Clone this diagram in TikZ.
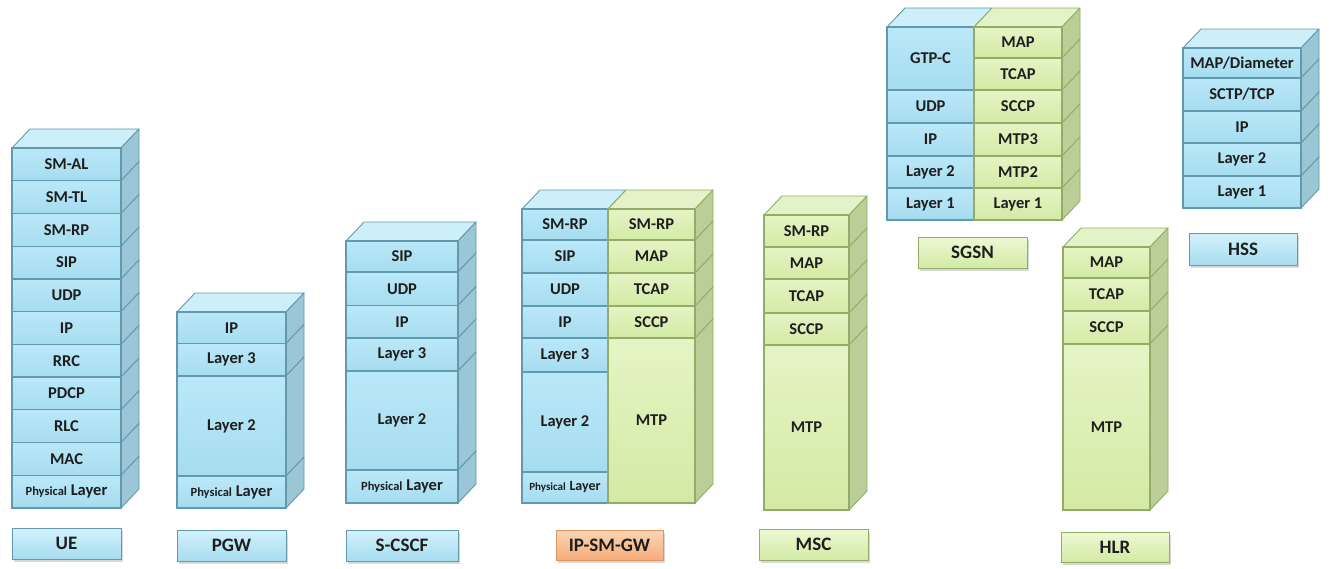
\documentclass[tikz,border=0pt]{standalone}
\usepackage{fontspec}
\setmainfont{Carlito}
\usetikzlibrary{shadows}
\definecolor{bft}{HTML}{BAE8F8}
\definecolor{bfb}{HTML}{A6DCEF}
\definecolor{blt}{HTML}{D3F2FC}
\definecolor{bside}{HTML}{9AC6D5}
\definecolor{btop}{HTML}{CDEFFA}
\definecolor{bedge}{HTML}{6399AC}
\definecolor{gft}{HTML}{E5F4C5}
\definecolor{gfb}{HTML}{D3EAA5}
\definecolor{glt}{HTML}{EDF8D4}
\definecolor{gside}{HTML}{BBCE97}
\definecolor{gtop}{HTML}{E4F3C7}
\definecolor{gedge}{HTML}{93AD69}
\definecolor{olt}{HTML}{FCD5B5}
\definecolor{ofb}{HTML}{F5AC7A}
\definecolor{oedge}{HTML}{DE955D}
\definecolor{txt}{HTML}{1E1E1E}
\tikzset{
 lay/.style={draw=#1edge, line width=1.3pt, top color=#1ft, bottom color=#1fb, inner sep=0pt, text=txt, font=\bfseries\fontsize{16.5}{18}\selectfont},
 lbl/.style={draw=#1edge, line width=.8pt, top color=#1lt, bottom color=#1fb, inner sep=0pt, text=txt, font=\bfseries\fontsize{19}{21}\selectfont, drop shadow={opacity=.3, shadow xshift=1.5pt, shadow yshift=-2.5pt}},
 face/.style={line width=.9pt, line join=round},
}
\newcommand\phys{{\fontsize{12.5}{13}\selectfont Physical} Layer}
% name x0 y0 x1 y1 colour text : layer with side face
\newcommand\stk[7]{%
 \filldraw[face, fill=#6side, draw=#6edge] (#4,#5) -- (#4,#3) -- ++(18,-19) -- (#4+18,#5-19) -- cycle;
 \pgfmathsetmacro\ww{#4-#2}\pgfmathsetmacro\hh{#5-#3}%
 \node[lay=#6, minimum width=\ww pt, minimum height=\hh pt] (#1) at ({(#2+#4)/2},{(#3+#5)/2}) {#7};}
% layer without side face (left column)
\newcommand\stl[7]{%
 \pgfmathsetmacro\ww{#4-#2}\pgfmathsetmacro\hh{#5-#3}%
 \node[lay=#6, minimum width=\ww pt, minimum height=\hh pt] (#1) at ({(#2+#4)/2},{(#3+#5)/2}) {#7};}
% top face: x0 x1 y colour
\newcommand\topf[4]{%
 \filldraw[face, fill=#4top, draw=#4edge] (#1,#3) -- ++(18,-19) -- (#2+18,#3-19) -- (#2,#3) -- cycle;}
% label: name x0 y0 x1 y1 colour text
\newcommand\lab[7]{%
 \pgfmathsetmacro\ww{#4-#2}\pgfmathsetmacro\hh{#5-#3}%
 \node[lbl=#6, minimum width=\ww pt, minimum height=\hh pt] (#1) at ({(#2+#4)/2},{(#3+#5)/2}) {#7};}
\begin{document}
\begin{tikzpicture}[x=1pt,y=-1pt]
\useasboundingbox[fill=white] (0,0) rectangle (1333,568);
% ---------- UE
\topf{12}{121}{148}{b}
\stk{ue1}{12}{148}{121}{180.7}{b}{SM-AL}
\stk{ue2}{12}{180.7}{121}{213.5}{b}{SM-TL}
\stk{ue3}{12}{213.5}{121}{246.2}{b}{SM-RP}
\stk{ue4}{12}{246.2}{121}{278.9}{b}{SIP}
\stk{ue5}{12}{278.9}{121}{311.6}{b}{UDP}
\stk{ue6}{12}{311.6}{121}{344.4}{b}{IP}
\stk{ue7}{12}{344.4}{121}{377.1}{b}{RRC}
\stk{ue8}{12}{377.1}{121}{409.8}{b}{PDCP}
\stk{ue9}{12}{409.8}{121}{442.5}{b}{RLC}
\stk{ue10}{12}{442.5}{121}{475.3}{b}{MAC}
\stk{ue11}{12}{475.3}{121}{508}{b}{\phys}
\lab{ueL}{12}{528}{121}{559}{b}{UE}
% ---------- PGW
\topf{177}{286}{312}{b}
\stk{pg1}{177}{312}{286}{343.5}{b}{IP}
\stk{pg2}{177}{343.5}{286}{376}{b}{Layer 3}
\stk{pg3}{177}{376}{286}{476}{b}{Layer 2}
\stk{pg4}{177}{476}{286}{508}{b}{\phys}
\lab{pgL}{177}{530}{286}{561}{b}{PGW}
% ---------- S-CSCF
\topf{346}{458}{241}{b}
\stk{sc1}{346}{241}{458}{272}{b}{SIP}
\stk{sc2}{346}{272}{458}{305.5}{b}{UDP}
\stk{sc3}{346}{305.5}{458}{338}{b}{IP}
\stk{sc4}{346}{338}{458}{371}{b}{Layer 3}
\stk{sc5}{346}{371}{458}{470}{b}{Layer 2}
\stk{sc6}{346}{470}{458}{503}{b}{\phys}
\lab{scL}{346}{530}{458}{561}{b}{S-CSCF}
% ---------- IP-SM-GW
\topf{522}{608}{209}{b}
\topf{608}{695}{209}{g}
\stl{gwa1}{522}{209}{608}{240}{b}{SM-RP}
\stl{gwa2}{522}{240}{608}{273}{b}{SIP}
\stl{gwa3}{522}{273}{608}{306}{b}{UDP}
\stl{gwa4}{522}{306}{608}{338}{b}{IP}
\stl{gwa5}{522}{338}{608}{372}{b}{Layer 3}
\stl{gwa6}{522}{372}{608}{472}{b}{Layer 2}
\stl{gwa7}{522}{472}{608}{503}{b}{{\fontsize{11}{12}\selectfont Physical} {\fontsize{14}{15}\selectfont Layer}}
\stk{gwb1}{608}{209}{695}{240}{g}{SM-RP}
\stk{gwb2}{608}{240}{695}{273}{g}{MAP}
\stk{gwb3}{608}{273}{695}{306}{g}{TCAP}
\stk{gwb4}{608}{306}{695}{338}{g}{SCCP}
\stk{gwb5}{608}{338}{695}{503}{g}{MTP}
\lab{gwL}{556}{530}{663}{560}{o}{IP-SM-GW}
% ---------- MSC
\topf{764}{849}{215}{g}
\stk{ms1}{764}{215}{849}{247}{g}{SM-RP}
\stk{ms2}{764}{247}{849}{279}{g}{MAP}
\stk{ms3}{764}{279}{849}{313}{g}{TCAP}
\stk{ms4}{764}{313}{849}{345}{g}{SCCP}
\stk{ms5}{764}{345}{849}{510}{g}{MTP}
\lab{msL}{759}{529}{868}{560}{g}{MSC}
% ---------- HLR
\topf{1063}{1150}{247}{g}
\stk{hl1}{1063}{247}{1150}{278}{g}{MAP}
\stk{hl2}{1063}{278}{1150}{311}{g}{TCAP}
\stk{hl3}{1063}{311}{1150}{344}{g}{SCCP}
\stk{hl4}{1063}{344}{1150}{510}{g}{MTP}
\lab{hlL}{1061}{532}{1169}{562}{g}{HLR}
% ---------- SGSN
\topf{887}{974}{27}{b}
\topf{974}{1062}{27}{g}
\stl{sga1}{887}{27}{974}{90}{b}{GTP-C}
\stl{sga2}{887}{90}{974}{123}{b}{UDP}
\stl{sga3}{887}{123}{974}{156}{b}{IP}
\stl{sga4}{887}{156}{974}{188}{b}{Layer 2}
\stl{sga5}{887}{188}{974}{220}{b}{Layer 1}
\stk{sgb1}{974}{27}{1062}{58}{g}{MAP}
\stk{sgb2}{974}{58}{1062}{90}{g}{TCAP}
\stk{sgb3}{974}{90}{1062}{123}{g}{SCCP}
\stk{sgb4}{974}{123}{1062}{156}{g}{MTP3}
\stk{sgb5}{974}{156}{1062}{188}{g}{MTP2}
\stk{sgb6}{974}{188}{1062}{220}{g}{Layer 1}
\lab{sgL}{918}{237}{1027}{268}{g}{SGSN}
% ---------- HSS
\topf{1183}{1301}{48}{b}
\stk{hs1}{1183}{48}{1301}{78}{b}{MAP/Diameter}
\stk{hs2}{1183}{78}{1301}{111}{b}{SCTP/TCP}
\stk{hs3}{1183}{111}{1301}{143}{b}{IP}
\stk{hs4}{1183}{143}{1301}{176}{b}{Layer 2}
\stk{hs5}{1183}{176}{1301}{208}{b}{Layer 1}
\lab{hsL}{1189}{233}{1297}{265}{b}{HSS}
\end{tikzpicture}
\end{document}
